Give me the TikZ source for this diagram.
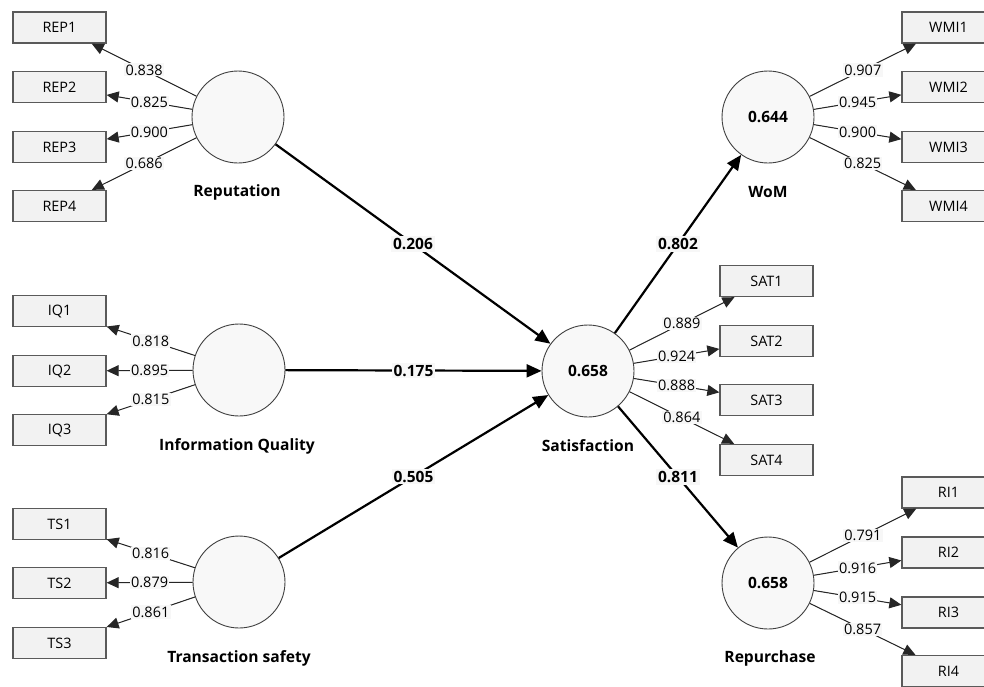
\documentclass[tikz,border=0pt]{standalone}
\usepackage{fontspec}
\setmainfont{Open Sans}
\usetikzlibrary{arrows.meta}
\definecolor{boxfill}{HTML}{F2F2F2}
\definecolor{boxline}{HTML}{5A5A5A}
\definecolor{circfill}{HTML}{F8F8F8}
\definecolor{lblfill}{HTML}{F7F7F7}
\begin{document}
\begin{tikzpicture}[x=1pt,y=-1pt,
 ind/.style={draw=boxline,fill=boxfill,line width=1.3pt,minimum width=93pt,minimum height=31pt,inner sep=0pt,font=\fontsize{14.4}{16}\selectfont},
 lat/.style={circle,draw=black!75,fill=circfill,line width=0.9pt,minimum size=92pt,inner sep=0pt,font=\bfseries\fontsize{15.5}{17}\selectfont},
 lname/.style={font=\bfseries\fontsize{15.6}{17}\selectfont,inner sep=0pt},
 ld/.style={-{Triangle[length=12pt,width=11pt]},line width=1pt,draw=black!85,fill=black},
 lv/.style={fill=lblfill,inner sep=1.2pt,font=\fontsize{14.5}{16}\selectfont,pos=0.5},
 pth/.style={-{Triangle[length=15pt,width=13pt]},line width=2.2pt},
 pv/.style={fill=lblfill,inner sep=2pt,font=\bfseries\fontsize{15.5}{17}\selectfont,pos=0.5}]
\useasboundingbox (0,0) rectangle (984,686);
\fill[white] (0,0) rectangle (984,686);
% latent variables
\node[lat] (rep) at (238,117) {};
\node[lat] (iq) at (239,370) {};
\node[lat] (ts) at (239,582) {};
\node[lat] (sat) at (588,371) {0.658};
\node[lat] (wom) at (768,117) {0.644};
\node[lat] (rp) at (768,583) {0.658};
% latent names
\node[lname] (repN) at (237,192) {Reputation};
\node[lname] (iqN) at (237,446) {Information Quality};
\node[lname] (tsN) at (239,658) {Transaction safety};
\node[lname] (satN) at (588,446) {Satisfaction};
\node[lname] (womN) at (768,192) {WoM};
\node[lname] (rpN) at (770,658) {Repurchase};
% indicators
\node[ind] (rep1) at (59.5,27.5) {REP1};
\node[ind] (rep2) at (59.5,87) {REP2};
\node[ind] (rep3) at (59.5,147) {REP3};
\node[ind] (rep4) at (59.5,206) {REP4};
\node[ind] (iq1) at (59.5,311) {IQ1};
\node[ind] (iq2) at (59.5,371) {IQ2};
\node[ind] (iq3) at (59.5,430) {IQ3};
\node[ind] (ts1) at (59.5,524) {TS1};
\node[ind] (ts2) at (59.5,583) {TS2};
\node[ind] (ts3) at (59.5,643) {TS3};
\node[ind] (sat1) at (766.5,281) {SAT1};
\node[ind] (sat2) at (766.5,341) {SAT2};
\node[ind] (sat3) at (766.5,400) {SAT3};
\node[ind] (sat4) at (766.5,460) {SAT4};
\node[ind] (wmi1) at (948.5,27.5) {WMI1};
\node[ind] (wmi2) at (948.5,87) {WMI2};
\node[ind] (wmi3) at (948.5,147) {WMI3};
\node[ind] (wmi4) at (948.5,206) {WMI4};
\node[ind] (ri1) at (948.5,492.5) {RI1};
\node[ind] (ri2) at (948.5,552.5) {RI2};
\node[ind] (ri3) at (948.5,612.5) {RI3};
\node[ind] (ri4) at (948.5,671) {RI4};
% loadings
\draw[ld] (rep) -- node[lv]{0.838} (rep1);
\draw[ld] (rep) -- node[lv]{0.825} (rep2);
\draw[ld] (rep) -- node[lv]{0.900} (rep3);
\draw[ld] (rep) -- node[lv]{0.686} (rep4);
\draw[ld] (iq) -- node[lv]{0.818} (iq1);
\draw[ld] (iq) -- node[lv]{0.895} (iq2);
\draw[ld] (iq) -- node[lv]{0.815} (iq3);
\draw[ld] (ts) -- node[lv]{0.816} (ts1);
\draw[ld] (ts) -- node[lv]{0.879} (ts2);
\draw[ld] (ts) -- node[lv]{0.861} (ts3);
\draw[ld] (sat) -- node[lv]{0.889} (sat1);
\draw[ld] (sat) -- node[lv]{0.924} (sat2);
\draw[ld] (sat) -- node[lv]{0.888} (sat3);
\draw[ld] (sat) -- node[lv]{0.864} (sat4);
\draw[ld] (wom) -- node[lv]{0.907} (wmi1);
\draw[ld] (wom) -- node[lv]{0.945} (wmi2);
\draw[ld] (wom) -- node[lv]{0.900} (wmi3);
\draw[ld] (wom) -- node[lv]{0.825} (wmi4);
\draw[ld] (rp) -- node[lv]{0.791} (ri1);
\draw[ld] (rp) -- node[lv]{0.916} (ri2);
\draw[ld] (rp) -- node[lv]{0.915} (ri3);
\draw[ld] (rp) -- node[lv]{0.857} (ri4);
% paths
\draw[pth] (rep) -- node[pv]{0.206} (sat);
\draw[pth] (iq) -- node[pv]{0.175} (sat);
\draw[pth] (ts) -- node[pv]{0.505} (sat);
\draw[pth] (sat) -- node[pv]{0.802} (wom);
\draw[pth] (sat) -- node[pv]{0.811} (rp);
\end{tikzpicture}
\end{document}
